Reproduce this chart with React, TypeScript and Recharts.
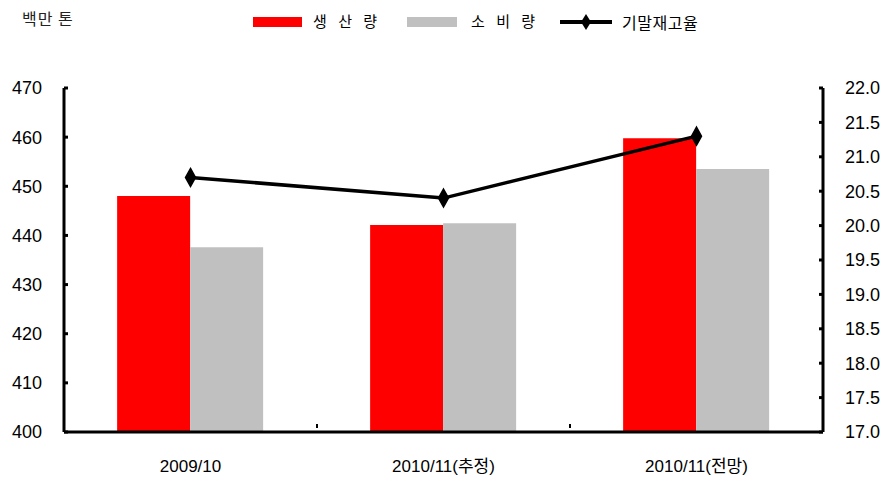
import React from "react";
import { ComposedChart, Bar, Line, XAxis, YAxis } from "recharts";

const categories = ["2009/10", "2010/11(추정)", "2010/11(전망)"];
const production = [448.0, 442.1, 459.8];
const consumption = [437.6, 442.5, 453.5];
const stockRatio = [20.7, 20.4, 21.3];
const leftTicks = [400, 410, 420, 430, 440, 450, 460, 470];
const rightTicks = [17.0, 17.5, 18.0, 18.5, 19.0, 19.5, 20.0, 20.5, 21.0, 21.5, 22.0];

const data = categories.map((c, i) => ({
  name: c,
  prod: production[i],
  cons: consumption[i],
  ratio: stockRatio[i],
}));

const FONT = "'Liberation Sans', Arial, 'Noto Sans CJK KR', sans-serif";

const Diamond = (props: any) => {
  const { cx, cy } = props;
  if (cx == null || cy == null) return null;
  return (
    <polygon
      points={`${cx},${cy - 9} ${cx + 5},${cy} ${cx},${cy + 9} ${cx - 5},${cy}`}
      fill="#000"
      stroke="#000"
      strokeWidth={1.5}
    />
  );
};

const XTick = (props: any) => {
  const { x, y, payload, index } = props;
  const off = payload.offset || 0;
  return (
    <g>
      {index < categories.length - 1 && (
        <line x1={x + off} x2={x + off} y1={y - 12} y2={y - 16} stroke="#000" strokeWidth={2} />
      )}
      <text x={x} y={y + 32} textAnchor="middle" fontSize={17} fill="#000" fontFamily={FONT}>
        {payload.value}
      </text>
    </g>
  );
};

const LegendBlock = () => (
  <div style={{ position: "absolute", left: 0, top: 0, width: 890, height: 40, fontFamily: "'Noto Sans CJK KR', sans-serif", fontSize: 15, color: "#000", pointerEvents: "none" }}>
    <div style={{ position: "absolute", left: 22, top: 6, fontSize: 16, letterSpacing: 1, color: "#222" }}>백만 톤</div>
    <div style={{ position: "absolute", left: 253, top: 17, width: 49, height: 10, background: "#ff0000" }} />
    <div style={{ position: "absolute", left: 313, top: 10, letterSpacing: 4 }}>생 산 량</div>
    <div style={{ position: "absolute", left: 407, top: 17, width: 50, height: 10, background: "#c0c0c0" }} />
    <div style={{ position: "absolute", left: 471, top: 10, letterSpacing: 4 }}>소 비 량</div>
    <svg style={{ position: "absolute", left: 558, top: 12 }} width={56} height={22}>
      <line x1={2} x2={54} y1={10} y2={10} stroke="#000" strokeWidth={4} />
      <polygon points="28,2 33,10 28,18 23,10" fill="#000" />
    </svg>
    <div style={{ position: "absolute", left: 622, top: 10, fontSize: 16, letterSpacing: 0.5 }}>기말재고율</div>
  </div>
);

export default function App() {
  return (
    <div style={{ position: "absolute", left: 0, top: 0, width: 890, height: 483, background: "#fff" }}>
      <ComposedChart
        width={890}
        height={483}
        data={data}
        margin={{ top: 88, right: 0, bottom: 0, left: 0 }}
        barGap={0}
        barCategoryGap="21%"
      >
        <XAxis
          dataKey="name"
          xAxisId="x"
          stroke="#000"
          strokeWidth={3}
          tickLine={false}
          tick={<XTick />}
          interval={0}
          height={51}
        />
        <YAxis
          yAxisId="left"
          orientation="left"
          domain={[400, 470]}
          ticks={leftTicks}
          width={64}
          stroke="#000"
          strokeWidth={3}
          tickSize={-4}
          tickMargin={26}
          tick={{ fill: "#000", fontSize: 18, fontFamily: FONT }}
          interval={0}
        />
        <YAxis
          yAxisId="right"
          orientation="right"
          domain={[17, 22]}
          ticks={rightTicks}
          tickFormatter={(v: number) => v.toFixed(1)}
          width={67}
          stroke="#000"
          strokeWidth={3}
          tickSize={-4}
          tickMargin={26}
          tick={{ fill: "#000", fontSize: 18, fontFamily: FONT, textAnchor: "start" }}
          interval={0}
        />
        <Bar xAxisId="x" yAxisId="left" dataKey="prod" fill="#ff0000" isAnimationActive={false} />
        <Bar xAxisId="x" yAxisId="left" dataKey="cons" fill="#c0c0c0" isAnimationActive={false} />
        <Line
          xAxisId="x"
          yAxisId="right"
          dataKey="ratio"
          stroke="#000"
          strokeWidth={3.5}
          dot={<Diamond />}
          activeDot={false}
          isAnimationActive={false}
        />
      </ComposedChart>
      <LegendBlock />
    </div>
  );
}
